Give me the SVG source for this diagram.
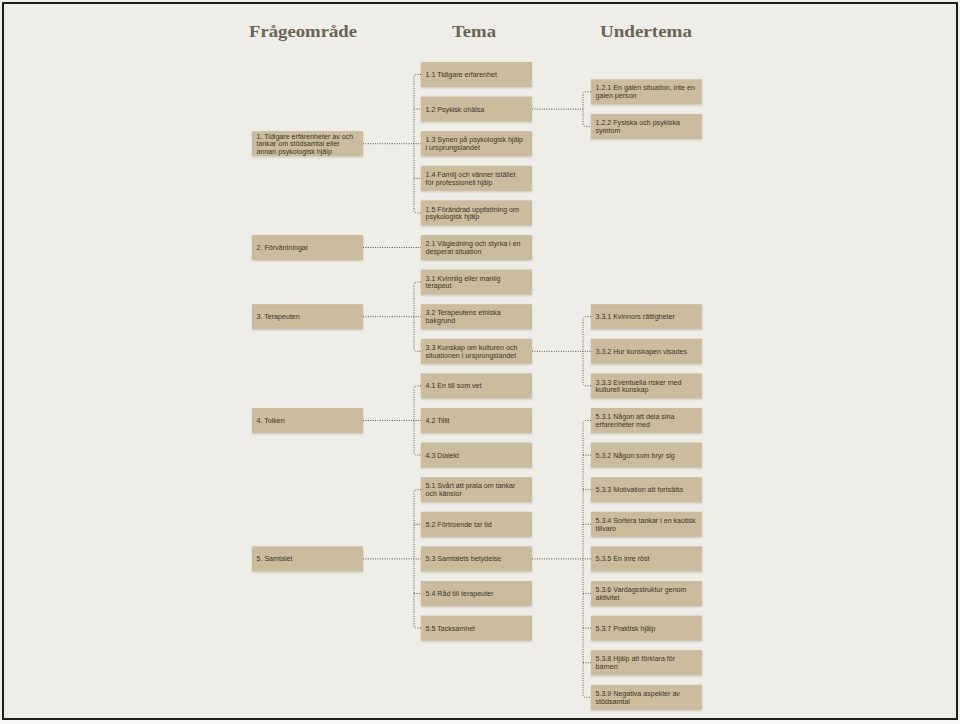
<svg xmlns="http://www.w3.org/2000/svg" width="960" height="724" viewBox="0 0 960 724">
<defs>
<filter id="sh" x="-10%" y="-20%" width="120%" height="150%">
<feDropShadow dx="0" dy="1" stdDeviation="0.8" flood-color="#6b5f45" flood-opacity="0.3"/>
</filter>
</defs>
<style>
.bg{fill:#efede8}
.frame{fill:none;stroke:#1e1e1e;stroke-width:2}
.hd{font-family:"Liberation Serif","Times New Roman",serif;font-weight:bold;font-size:17px;fill:#6a6454}
.box{fill:#cbbc9d;filter:url(#sh)}
.t{font-family:"Liberation Sans",Arial,sans-serif;font-size:7.1px;fill:#3b3529}
.c{fill:none;stroke:#5a564e;stroke-width:1;stroke-dasharray:1 1.4}
</style>
<rect class="bg" x="0" y="0" width="960" height="724"/>
<rect x="0" y="720" width="960" height="4" fill="#f7f7f5"/>
<rect class="frame" x="3" y="3" width="954" height="716"/>

<g id="headers">
<text class="hd" x="249" y="37" textLength="108" lengthAdjust="spacingAndGlyphs">Frågeområde</text>
<text class="hd" x="452" y="37" textLength="44" lengthAdjust="spacingAndGlyphs">Tema</text>
<text class="hd" x="600" y="37" textLength="92" lengthAdjust="spacingAndGlyphs">Undertema</text>
</g>

<g id="connectors">
<path class="c" d="M363,143.7 H421 M421,74.5 H417 Q414,74.5 414,77.5 V209.9 Q414,212.9 417,212.9 H421 M414,109.1 H421 M414,178.3 H421"/>
<path class="c" d="M363,247.5 H421"/>
<path class="c" d="M363,316.7 H421 M421,282.1 H417 Q414,282.1 414,285.1 V348.3 Q414,351.3 417,351.3 H421"/>
<path class="c" d="M363,420.5 H421 M421,385.9 H417 Q414,385.9 414,388.9 V452.1 Q414,455.1 417,455.1 H421"/>
<path class="c" d="M363,558.9 H421 M421,489.7 H417 Q414,489.7 414,492.7 V625.1 Q414,628.1 417,628.1 H421 M414,524.3 H421 M414,593.5 H421"/>
<path class="c" d="M532,109.1 H583 M591,91.8 H586 Q583,91.8 583,94.8 V123.4 Q583,126.4 586,126.4 H591"/>
<path class="c" d="M532,351.3 H591 M591,316.7 H586 Q583,316.7 583,319.7 V382.9 Q583,385.9 586,385.9 H591"/>
<path class="c" d="M532,558.9 H591 M591,420.5 H586 Q583,420.5 583,423.5 V694.3 Q583,697.3 586,697.3 H591 M583,455.1 H591 M583,489.7 H591 M583,524.3 H591 M583,593.5 H591 M583,628.1 H591 M583,662.7 H591"/>
</g>

<!-- Column 1 -->
<g id="n1" transform="translate(252,131.2)"><rect class="box" width="111" height="25"/><text class="t"><tspan x="4.5" y="7.4">1. Tidigare erfarenheter av och</tspan><tspan x="4.5" y="15">tankar om stödsamtal eller</tspan><tspan x="4.5" y="22.6">annan psykologisk hjälp</tspan></text></g>
<g id="n2" transform="translate(252,235)"><rect class="box" width="111" height="25"/><text class="t" x="4.5" y="15">2. Förväntningar</text></g>
<g id="n3" transform="translate(252,304.2)"><rect class="box" width="111" height="25"/><text class="t" x="4.5" y="15">3. Terapeuten</text></g>
<g id="n4" transform="translate(252,408)"><rect class="box" width="111" height="25"/><text class="t" x="4.5" y="15">4. Tolken</text></g>
<g id="n5" transform="translate(252,546.4)"><rect class="box" width="111" height="25"/><text class="t" x="4.5" y="15">5. Samtalet</text></g>

<!-- Column 2 -->
<g id="n1_1" transform="translate(421,62)"><rect class="box" width="111" height="25"/><text class="t" x="4.5" y="15">1.1 Tidigare erfarenhet</text></g>
<g id="n1_2" transform="translate(421,96.6)"><rect class="box" width="111" height="25"/><text class="t" x="4.5" y="15">1.2 Psykisk ohälsa</text></g>
<g id="n1_3" transform="translate(421,131.2)"><rect class="box" width="111" height="25"/><text class="t"><tspan x="4.5" y="11.2">1.3 Synen på psykologisk hjälp</tspan><tspan x="4.5" y="18.8">i ursprungslandet</tspan></text></g>
<g id="n1_4" transform="translate(421,165.8)"><rect class="box" width="111" height="25"/><text class="t"><tspan x="4.5" y="11.2">1.4 Familj och vänner istället</tspan><tspan x="4.5" y="18.8">för professionell hjälp</tspan></text></g>
<g id="n1_5" transform="translate(421,200.4)"><rect class="box" width="111" height="25"/><text class="t"><tspan x="4.5" y="11.2">1.5 Förändrad uppfattning om</tspan><tspan x="4.5" y="18.8">psykologisk hjälp</tspan></text></g>
<g id="n2_1" transform="translate(421,235)"><rect class="box" width="111" height="25"/><text class="t"><tspan x="4.5" y="11.2">2.1 Vägledning och styrka i en</tspan><tspan x="4.5" y="18.8">desperat situation</tspan></text></g>
<g id="n3_1" transform="translate(421,269.6)"><rect class="box" width="111" height="25"/><text class="t"><tspan x="4.5" y="11.2">3.1 Kvinnlig eller manlig</tspan><tspan x="4.5" y="18.8">terapeut</tspan></text></g>
<g id="n3_2" transform="translate(421,304.2)"><rect class="box" width="111" height="25"/><text class="t"><tspan x="4.5" y="11.2">3.2 Terapeutens etniska</tspan><tspan x="4.5" y="18.8">bakgrund</tspan></text></g>
<g id="n3_3" transform="translate(421,338.8)"><rect class="box" width="111" height="25"/><text class="t"><tspan x="4.5" y="11.2">3.3 Kunskap om kulturen och</tspan><tspan x="4.5" y="18.8">situationen i ursprungslandet</tspan></text></g>
<g id="n4_1" transform="translate(421,373.4)"><rect class="box" width="111" height="25"/><text class="t" x="4.5" y="15">4.1 En till som vet</text></g>
<g id="n4_2" transform="translate(421,408)"><rect class="box" width="111" height="25"/><text class="t" x="4.5" y="15">4.2 Tillit</text></g>
<g id="n4_3" transform="translate(421,442.6)"><rect class="box" width="111" height="25"/><text class="t" x="4.5" y="15">4.3 Dialekt</text></g>
<g id="n5_1" transform="translate(421,477.2)"><rect class="box" width="111" height="25"/><text class="t"><tspan x="4.5" y="11.2">5.1 Svårt att prata om tankar</tspan><tspan x="4.5" y="18.8">och känslor</tspan></text></g>
<g id="n5_2" transform="translate(421,511.8)"><rect class="box" width="111" height="25"/><text class="t" x="4.5" y="15">5.2 Förtroende tar tid</text></g>
<g id="n5_3" transform="translate(421,546.4)"><rect class="box" width="111" height="25"/><text class="t" x="4.5" y="15">5.3 Samtalets betydelse</text></g>
<g id="n5_4" transform="translate(421,581)"><rect class="box" width="111" height="25"/><text class="t" x="4.5" y="15">5.4 Råd till terapeuter</text></g>
<g id="n5_5" transform="translate(421,615.6)"><rect class="box" width="111" height="25"/><text class="t" x="4.5" y="15">5.5 Tacksamhet</text></g>

<!-- Column 3 -->
<g id="n1_2_1" transform="translate(591,79.3)"><rect class="box" width="111" height="25"/><text class="t"><tspan x="4.5" y="11.2">1.2.1 En galen situation, inte en</tspan><tspan x="4.5" y="18.8">galen person</tspan></text></g>
<g id="n1_2_2" transform="translate(591,113.9)"><rect class="box" width="111" height="25"/><text class="t"><tspan x="4.5" y="11.2">1.2.2 Fysiska och psykiska</tspan><tspan x="4.5" y="18.8">symtom</tspan></text></g>
<g id="n3_3_1" transform="translate(591,304.2)"><rect class="box" width="111" height="25"/><text class="t" x="4.5" y="15">3.3.1 Kvinnors rättigheter</text></g>
<g id="n3_3_2" transform="translate(591,338.8)"><rect class="box" width="111" height="25"/><text class="t" x="4.5" y="15">3.3.2 Hur kunskapen visades</text></g>
<g id="n3_3_3" transform="translate(591,373.4)"><rect class="box" width="111" height="25"/><text class="t"><tspan x="4.5" y="11.2">3.3.3 Eventuella risker med</tspan><tspan x="4.5" y="18.8">kulturell kunskap</tspan></text></g>
<g id="n5_3_1" transform="translate(591,408)"><rect class="box" width="111" height="25"/><text class="t"><tspan x="4.5" y="11.2">5.3.1 Någon att dela sina</tspan><tspan x="4.5" y="18.8">erfarenheter med</tspan></text></g>
<g id="n5_3_2" transform="translate(591,442.6)"><rect class="box" width="111" height="25"/><text class="t" x="4.5" y="15">5.3.2 Någon som bryr sig</text></g>
<g id="n5_3_3" transform="translate(591,477.2)"><rect class="box" width="111" height="25"/><text class="t" x="4.5" y="15">5.3.3 Motivation att fortsätta</text></g>
<g id="n5_3_4" transform="translate(591,511.8)"><rect class="box" width="111" height="25"/><text class="t"><tspan x="4.5" y="11.2">5.3.4 Sortera tankar i en kaotisk</tspan><tspan x="4.5" y="18.8">tillvaro</tspan></text></g>
<g id="n5_3_5" transform="translate(591,546.4)"><rect class="box" width="111" height="25"/><text class="t" x="4.5" y="15">5.3.5 En inre röst</text></g>
<g id="n5_3_6" transform="translate(591,581)"><rect class="box" width="111" height="25"/><text class="t"><tspan x="4.5" y="11.2">5.3.6 Vardagsstruktur genom</tspan><tspan x="4.5" y="18.8">aktivitet</tspan></text></g>
<g id="n5_3_7" transform="translate(591,615.6)"><rect class="box" width="111" height="25"/><text class="t" x="4.5" y="15">5.3.7 Praktisk hjälp</text></g>
<g id="n5_3_8" transform="translate(591,650.2)"><rect class="box" width="111" height="25"/><text class="t"><tspan x="4.5" y="11.2">5.3.8 Hjälp att förklara för</tspan><tspan x="4.5" y="18.8">barnen</tspan></text></g>
<g id="n5_3_9" transform="translate(591,684.8)"><rect class="box" width="111" height="25"/><text class="t"><tspan x="4.5" y="11.2">5.3.9 Negativa aspekter av</tspan><tspan x="4.5" y="18.8">stödsamtal</tspan></text></g>
</svg>
